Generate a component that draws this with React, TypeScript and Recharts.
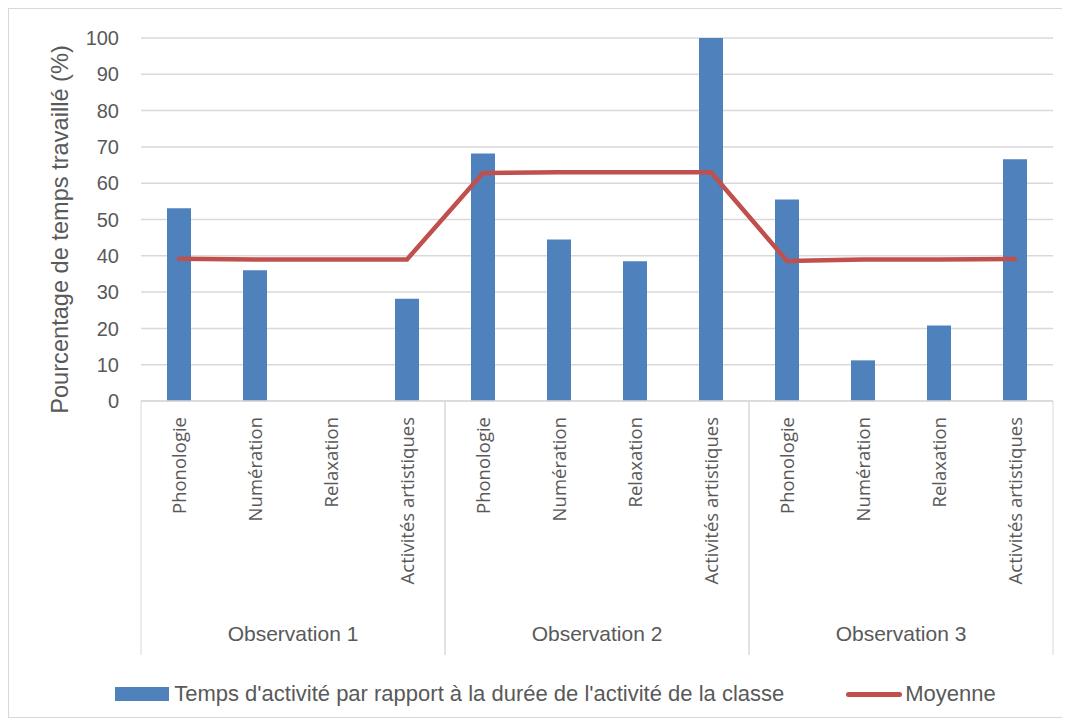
import React from 'react'
import {
  ComposedChart,
  Bar,
  Line,
  XAxis,
  YAxis,
  CartesianGrid,
  Legend,
} from 'recharts'

const categories = [
  'Phonologie', 'Numération', 'Relaxation', 'Activités artistiques',
  'Phonologie', 'Numération', 'Relaxation', 'Activités artistiques',
  'Phonologie', 'Numération', 'Relaxation', 'Activités artistiques',
]
const groups = ['Observation 1', 'Observation 2', 'Observation 3']
const tempsActivite = [53.1, 36, 0, 28.2, 68.2, 44.5, 38.5, 100, 55.5, 11.2, 20.8, 66.6]
const moyenne = [39.2, 39, 39, 39, 62.8, 63, 63, 63, 38.6, 39, 39, 39.1]
const yTicks = [0, 10, 20, 30, 40, 50, 60, 70, 80, 90, 100]

const BAR_NAME = "Temps d'activité par rapport à la durée de l'activité de la classe"
const LINE_NAME = 'Moyenne'
const BLUE = '#4f81bd'
const RED = '#c0504d'
const TEXT = '#595959'
const GRID = '#d9d9d9'
const FONT = "'Liberation Sans', Arial, sans-serif"

const data = categories.map((c, i) => ({
  key: `c${i}`,
  cat: c,
  group: groups[Math.floor(i / 4)],
  temps: tempsActivite[i],
  moyenne: moyenne[i],
}))

const AXIS_H = 254

function CategoryTick(props: any) {
  const { x, y, payload } = props
  const i = payload.index as number
  const half = payload.offset ?? 38
  const perGroup = 4
  const pos = i % perGroup
  return (
    <g>
      <text
        x={x}
        y={y + 8}
        transform={`rotate(-90 ${x} ${y + 8})`}
        textAnchor="end"
        dy="0.36em"
        fill={TEXT}
        fontSize={18.5}
        fontFamily="'Open Sans', sans-serif"
      >
        {categories[i]}
      </text>
      {pos === 0 && (
        <line x1={x - half} x2={x - half} y1={y - 8} y2={y - 8 + AXIS_H} stroke={GRID} />
      )}
      {pos === perGroup - 1 && (
        <line x1={x + half} x2={x + half} y1={y - 8} y2={y - 8 + AXIS_H} stroke={GRID} />
      )}
      {pos === 1 && (
        <text
          x={x + half}
          y={y + 232}
          textAnchor="middle"
          fill={TEXT}
          fontSize={21}
          fontFamily={FONT}
        >
          {groups[Math.floor(i / perGroup)]}
        </text>
      )}
    </g>
  )
}

function YLabel(props: any) {
  const { viewBox } = props
  const cx = viewBox.x + 31
  const cy = viewBox.y + viewBox.height / 2 + 10
  return (
    <text
      x={cx}
      y={cy}
      transform={`rotate(-90 ${cx} ${cy})`}
      textAnchor="middle"
      dy="0.35em"
      fill={TEXT}
      fontSize={23.6}
      fontFamily={FONT}
    >
      Pourcentage de temps travaillé (%)
    </text>
  )
}

function ChartLegend() {
  return (
    <div
      style={{
        display: 'flex',
        justifyContent: 'center',
        alignItems: 'center',
        paddingTop: 26,
        paddingLeft: 29,
        fontFamily: FONT,
        fontSize: 22,
        color: TEXT,
      }}
    >
      <span style={{ display: 'inline-block', width: 54, height: 14, background: BLUE, marginRight: 5 }} />
      <span style={{ whiteSpace: 'nowrap' }}>{BAR_NAME}</span>
      <span style={{ display: 'inline-block', width: 56, height: 5, borderRadius: 3, background: RED, marginLeft: 62, marginRight: 3 }} />
      <span>{LINE_NAME}</span>
    </div>
  )
}

export default function App() {
  return (
    <div style={{ width: 1054, height: 708, border: `1px solid ${GRID}`, background: '#fff' }}>
      <ComposedChart
        width={1052}
        height={706}
        data={data}
        margin={{ top: 29, right: 8, left: 20, bottom: 0 }}
      >
        <CartesianGrid vertical={false} stroke={GRID} strokeWidth={1.5} />
        <XAxis
          dataKey="key"
          height={AXIS_H}
          interval={0}
          tickLine={false}
          axisLine={{ stroke: GRID, strokeWidth: 1.5 }}
          tick={<CategoryTick />}
        />
        <YAxis
          width={112}
          domain={[0, 100]}
          ticks={yTicks}
          interval={0}
          tickLine={false}
          axisLine={false}
          tickMargin={16}
          tick={{ fill: TEXT, fontSize: 20, fontFamily: FONT }}
          label={<YLabel />}
        />
        <Legend verticalAlign="bottom" height={60} content={<ChartLegend />} />
        <Bar dataKey="temps" name={BAR_NAME} fill={BLUE} barSize={24} isAnimationActive={false} />
        <Line
          dataKey="moyenne"
          name={LINE_NAME}
          stroke={RED}
          strokeWidth={4.5}
          dot={false}
          activeDot={false}
          strokeLinecap="round"
          strokeLinejoin="miter"
          isAnimationActive={false}
        />
      </ComposedChart>
    </div>
  )
}
